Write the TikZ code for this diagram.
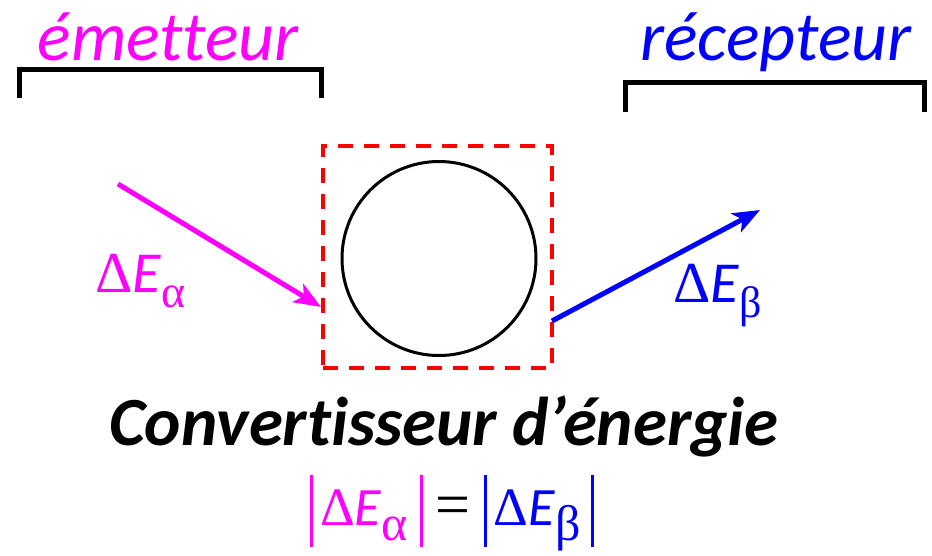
\documentclass[tikz,border=0pt]{standalone}
\usepackage{fontspec}
\setmainfont{Carlito}[Ligatures=NoCommon]
\newfontfamily\grk{Liberation Serif}
\usetikzlibrary{arrows.meta}
\definecolor{emit}{HTML}{FF00FF}
\definecolor{recv}{HTML}{0000FF}
\definecolor{frame}{HTML}{FF0000}
\newcommand{\dE}[2]{{\grk Δ}\textit{E}\raisebox{-15pt}{\grk\fontsize{#2}{#2}\selectfont #1}}
\newcommand{\absbar}{\rule[-22pt]{3pt}{72pt}}

\begin{document}
\begin{tikzpicture}[x=1pt,y=-1pt,
  bracket/.style={line width=5pt, line join=miter},
  flow/.style={line width=5pt, -{Stealth[length=27pt,width=21pt,inset=7pt]}},
  title/.style={font=\fontsize{70}{76}\selectfont\itshape, anchor=base, inner sep=0pt},
  lbl/.style={font=\fontsize{58}{64}\selectfont, anchor=base west, inner sep=0pt}]
\useasboundingbox (0,0) rectangle (932,555);
% the two sides
\node[title, text=emit] (emitter) at (168,60) {émetteur};
\node[title, text=recv] (receiver) at (776,60) {récepteur};
\draw[bracket] (19,98) -- (19,69.5) -- (321.5,69.5) -- (321.5,98);
\draw[bracket] (625.5,112) -- (625.5,82.5) -- (924.5,82.5) -- (924.5,112);
% the converter
\node[draw=frame, line width=4pt, dash pattern=on 15pt off 11pt,
  minimum width=229pt, minimum height=222pt, inner sep=0pt] (conv) at (437.5,257) {};
\node[draw, circle, line width=3pt, minimum size=194pt, inner sep=0pt] (sys) at (439,258.5) {};
\coordinate (src) at (118,184);
\coordinate (in) at (321,307);
\coordinate (out) at (552,321);
\coordinate (dst) at (760,210);
\draw[flow, emit] (src) -- (in);
\draw[flow, recv] (out) -- (dst);
\node[lbl, text=emit] (alpha) at (95,292) {\dE{α}{46}};
\node[lbl, text=recv] (beta) at (673,302) {\dE{β}{44}};
\node[font=\fontsize{69}{74}\selectfont\bfseries\itshape, anchor=base, inner sep=0pt] (name) at (444,445) {Convertisseur d’énergie};
% conservation
\node[font=\fontsize{54}{60}\selectfont, anchor=base west, inner sep=0pt] (law) at (310,525)
  {\textcolor{emit}{\absbar\hspace{7pt}\dE{α}{50}\hspace{12pt}\absbar}\hspace{13pt}{\grk\fontsize{62}{62}\selectfont =}\hspace{13pt}\textcolor{recv}{\absbar\hspace{7pt}\dE{β}{50}\hspace{10pt}\absbar}};
\end{tikzpicture}
\end{document}
